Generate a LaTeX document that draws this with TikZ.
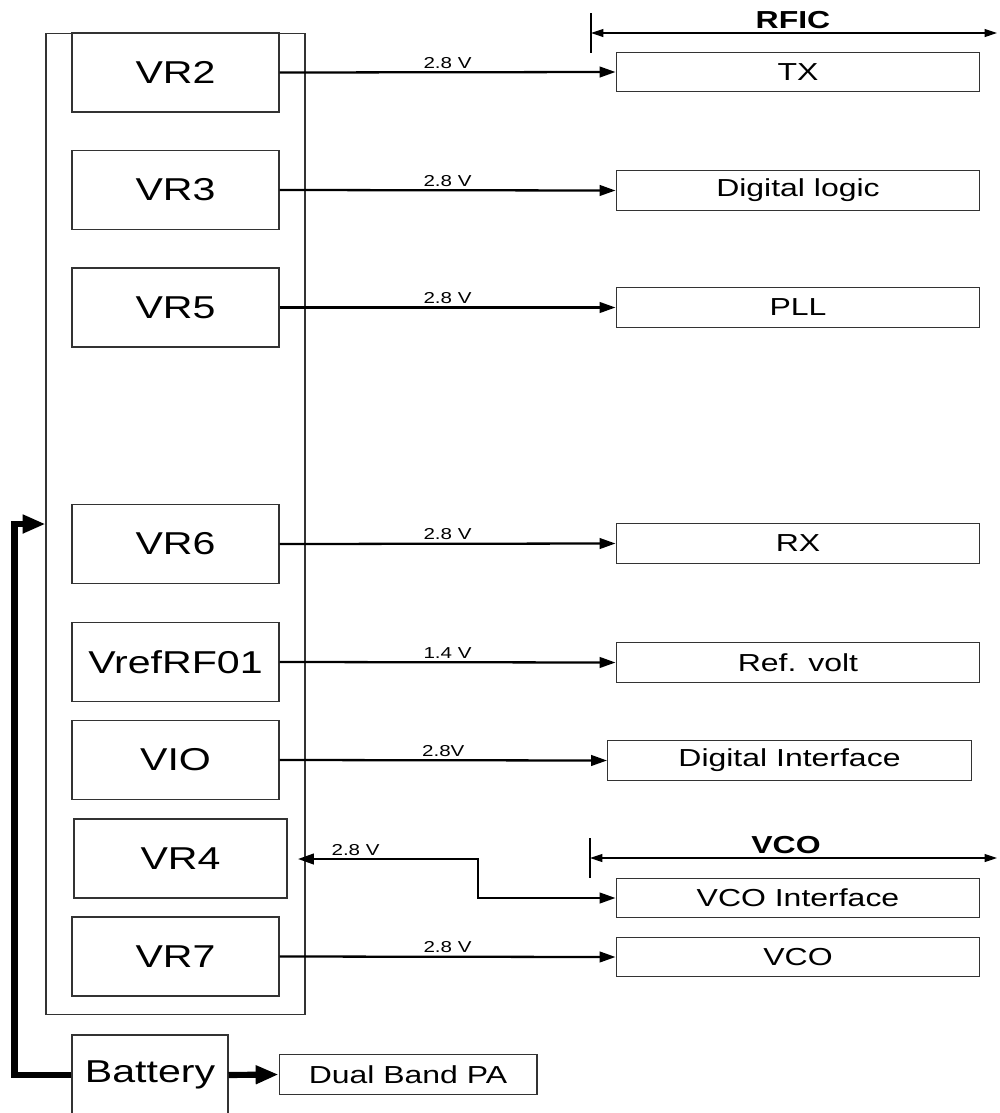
\documentclass[tikz,border=0pt]{standalone}
\usepackage{fontspec}
\setmainfont{Liberation Sans}[FakeStretch=1.3]
\usetikzlibrary{arrows.meta}

\begin{document}
\begin{tikzpicture}[x=0.02cm, y=-0.02cm,
  >={Triangle[length=9pt, width=6pt]},
  box/.style={draw=black!80, line width=0.6pt, inner sep=0pt},
  reg/.style={box, minimum width=4.14cm, minimum height=1.58cm, font=\fontsize{18}{20}\selectfont},
  blk/.style={box, minimum width=7.28cm, minimum height=0.79cm, font=\fontsize{14}{16}\selectfont},
  feed/.style={line width=1.3pt, ->},
  supply/.style={line width=3.5pt, -{Triangle[length=13pt, width=10pt]}},
  volt/.style={above, inner sep=1.5pt, font=\fontsize{9}{10}\selectfont},
  span/.style={line width=0.6pt, {Triangle[length=7pt, width=4.5pt]}-{Triangle[length=7pt, width=4.5pt]}},
  title/.style={font=\bfseries\fontsize{14}{16}\selectfont}]
  \useasboundingbox (0,0) rectangle (1000,1113);
  \clip (0,0) rectangle (1000,1113);

  % regulator block
  \node[box, minimum width=5.18cm, minimum height=19.64cm] (regs) at (175.5,524) {};
  \node[reg] (vr2) at (175.5,72.5) {VR2};
  \node[reg] (vr3) at (175.5,190) {VR3};
  \node[reg] (vr5) at (175.5,307.5) {VR5};
  \node[reg] (vr6) at (175.5,544) {VR6};
  \node[reg] (vref) at (175.5,662) {VrefRF01};
  \node[reg] (vio) at (175.5,760) {VIO};
  \node[reg, minimum width=4.26cm] (vr4) at (180.5,858.5) {VR4};
  \node[reg] (vr7) at (175.5,956.5) {VR7};
  \node[reg, minimum width=3.12cm, minimum height=1.6cm] (bat) at (150,1075) {Battery};

  % loads
  \node[blk] (tx) at (798,72) {TX};
  \node[blk] (dig) at (798,190.5) {Digital logic};
  \node[blk] (pll) at (798,307.5) {PLL};
  \node[blk] (rx) at (798,543.5) {RX};
  \node[blk] (ref) at (798,662.5) {Ref. volt};
  \node[blk] (dif) at (789.5,760.5) {Digital Interface};
  \node[blk] (vcoif) at (798,898) {VCO Interface};
  \node[blk] (vco) at (798,957) {VCO};
  \node[blk, minimum width=5.16cm] (pa) at (408,1074.5) {Dual Band PA};

  % supplies
  \draw[feed] (vr2.east) -- (tx.west) node[volt, midway] {2.8 V};
  \draw[feed] (vr3.east) -- (dig.west) node[volt, midway] {2.8 V};
  \draw[feed] (vr5.east) -- (pll.west) node[volt, midway] {2.8 V};
  \draw[feed] (vr6.east) -- (rx.west) node[volt, midway] {2.8 V};
  \draw[feed] (vref.east) -- (ref.west) node[volt, midway] {1.4 V};
  \draw[feed] (vio.east) -- (dif.west) node[volt, midway] {2.8V};
  \draw[feed] (vr7.east) -- (vco.west) node[volt, midway] {2.8 V};

  \coordinate (vr4in) at (298,859);
  \coordinate (vcobend) at (478,859);
  \draw[feed, <->] (vr4in) -- node[volt, pos=0.32] {2.8 V} (vcobend) |- (vcoif.west);

  \draw[supply] (bat.west) -- ++(-57,0) |- (regs.west);
  \draw[supply] (bat.east) -- (pa.west);

  % spans
  \coordinate (rficL) at (591,33);
  \coordinate (rficR) at (997,33);
  \draw[line width=0.6pt] (591,13) -- (591,53);
  \draw[span] (rficL) -- (rficR);
  \node[title] (rfic) at (793,20) {RFIC};

  \coordinate (vcoL) at (590,858);
  \coordinate (vcoR) at (997,858);
  \draw[line width=0.6pt] (590,838) -- (590,878);
  \draw[span] (vcoL) -- (vcoR);
  \node[title] (vcot) at (786,845) {VCO};
\end{tikzpicture}
\end{document}
